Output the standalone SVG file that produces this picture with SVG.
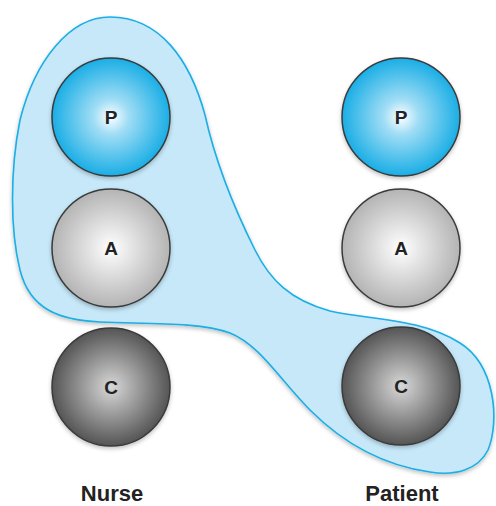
<svg xmlns="http://www.w3.org/2000/svg" width="496" height="506" viewBox="0 0 496 506">
<defs>
<radialGradient id="gP" cx="50%" cy="50%" r="50%">
<stop offset="0" stop-color="#ffffff"/>
<stop offset="0.3" stop-color="#a0ddf5"/>
<stop offset="1" stop-color="#1aaee5"/>
</radialGradient>
<radialGradient id="gA" cx="50%" cy="50%" r="50%">
<stop offset="0" stop-color="#ffffff"/>
<stop offset="1" stop-color="#b4b4b4"/>
</radialGradient>
<radialGradient id="gC" cx="50%" cy="50%" r="50%">
<stop offset="0" stop-color="#d8d8d8"/>
<stop offset="1" stop-color="#555555"/>
</radialGradient>
<filter id="sh" x="-20%" y="-20%" width="140%" height="140%">
<feGaussianBlur in="SourceAlpha" stdDeviation="2"/>
<feOffset dx="0" dy="2"/>
<feComponentTransfer><feFuncA type="linear" slope="0.25"/></feComponentTransfer>
<feMerge><feMergeNode/><feMergeNode in="SourceGraphic"/></feMerge>
</filter>
</defs>
<style>
.node circle{stroke:#3a3a3a;stroke-width:1.5}
.lt{font-family:"Liberation Sans",Arial,sans-serif;font-weight:bold;font-size:19px;fill:#222;text-anchor:middle}
.lbl{font-family:"Liberation Sans",Arial,sans-serif;font-weight:bold;font-size:22px;fill:#222;text-anchor:middle}
</style>
<g id="blob">
<path filter="url(#sh)" fill="#c6e8f9" stroke="#1aaee5" stroke-width="1.6" d="M110,17 C160,17 190,60 205,115 C215,160 235,210 255,250 C270,280 290,300 330,311 C370,320 420,318 460,343 C495,365 500,420 488,450 C478,470 455,476 430,472 C380,465 340,440 310,410 C280,380 260,345 230,333 C200,322 150,324 100,322 C60,320 30,310 20,270 C10,230 10,170 20,120 C35,60 70,17 110,17 Z"/>
</g>
<g id="connectors"></g>
<g id="nurseP" class="node"><circle cx="111" cy="117" r="59" fill="url(#gP)" filter="url(#sh)"/><text class="lt" x="111" y="124">P</text></g>
<g id="nurseA" class="node"><circle cx="111" cy="248" r="59" fill="url(#gA)" filter="url(#sh)"/><text class="lt" x="111" y="255">A</text></g>
<g id="nurseC" class="node"><circle cx="111" cy="387" r="59" fill="url(#gC)" filter="url(#sh)"/><text class="lt" x="111" y="394">C</text></g>
<g id="patientP" class="node"><circle cx="401" cy="117" r="59" fill="url(#gP)" filter="url(#sh)"/><text class="lt" x="401" y="124">P</text></g>
<g id="patientA" class="node"><circle cx="401" cy="248" r="59" fill="url(#gA)" filter="url(#sh)"/><text class="lt" x="401" y="255">A</text></g>
<g id="patientC" class="node"><circle cx="401" cy="386" r="59" fill="url(#gC)" filter="url(#sh)"/><text class="lt" x="401" y="393">C</text></g>
<g id="labels">
<text class="lbl" x="112" y="501">Nurse</text>
<text class="lbl" x="402" y="501">Patient</text>
</g>
</svg>
